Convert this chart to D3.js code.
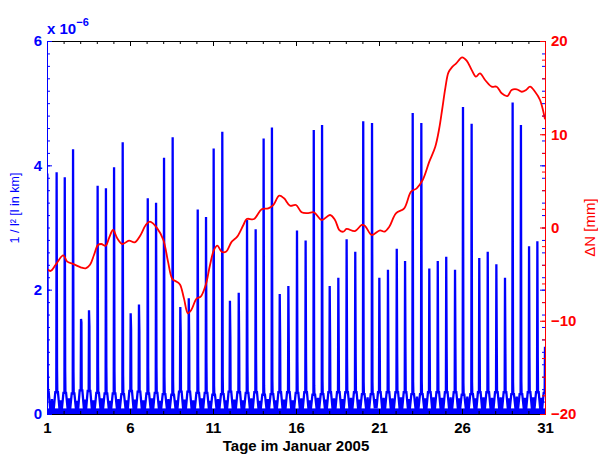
<!DOCTYPE html>
<html><head><meta charset="utf-8">
<script src="https://cdn.jsdelivr.net/npm/d3@7/dist/d3.min.js"></script>
<style>
body{margin:0;background:#fff}
svg{display:block}
text{font-family:"Liberation Sans",Arial,Helvetica,sans-serif}
</style>
</head><body>
<svg id="c" width="598" height="455"></svg>
<script>
// ---- data (left series in units of 1e-6, right series in mm) ----
const spikeDay=[1.02,1.58,2.07,2.57,3.05,3.53,4.05,4.55,5.04,5.56,6.04,6.54,7.07,7.57,8.05,8.57,9.03,9.54,10.08,10.58,
11.04,11.56,12.02,12.55,13.05,13.57,14.05,14.55,15.02,15.54,16.06,16.58,17.07,17.57,18.03,18.55,19.05,19.57,20.05,20.58,
21.02,21.54,22.07,22.57,23.03,23.55,24.03,24.54,25.05,25.58,26.06,26.58,27.04,27.55,28.07,28.59,29.05,29.55,30.04,30.54,31.0];
const spikePeak=[3.87,3.89,3.81,4.26,1.53,1.67,3.67,3.63,3.97,4.37,1.62,1.76,3.47,3.40,4.12,4.45,1.72,1.86,3.29,3.17,
4.27,4.54,1.82,1.95,3.12,2.97,4.43,4.61,1.93,2.06,2.95,2.79,4.57,4.65,2.06,2.19,2.81,2.61,4.71,4.68,
2.19,2.32,2.66,2.46,4.84,4.68,2.34,2.46,2.53,2.32,4.94,4.67,2.51,2.61,2.41,2.19,5.01,4.65,2.70,2.78,1.08];
const spikeShoulder=[0.70,0.72,0.70,0.68,1.47,1.41,0.75,0.75,0.68,0.62,1.37,1.33,0.73,0.75,0.60,0.55,1.31,1.25,0.77,0.82,
0.45,0.60,1.25,1.19,0.82,0.87,0.46,0.56,1.20,1.15,0.84,0.87,0.46,0.56,1.16,1.09,0.89,0.92,0.52,0.52,
1.08,1.03,0.95,1.00,0.52,0.53,1.03,1.00,1.00,1.03,0.50,0.52,1.00,0.97,1.07,0.97,0.52,0.53,0.91,0.91,0.60];
const spikeFoot=[0.36,0.35,0.34,0.33,0.38,0.37,0.34,0.33,0.33,0.32,0.37,0.36,0.33,0.34,0.32,0.31,0.36,0.36,0.34,0.34,
0.31,0.32,0.36,0.35,0.34,0.35,0.31,0.32,0.35,0.35,0.34,0.35,0.31,0.32,0.35,0.35,0.35,0.35,0.32,0.32,
0.35,0.35,0.35,0.35,0.32,0.32,0.35,0.35,0.35,0.35,0.31,0.32,0.35,0.35,0.35,0.35,0.32,0.32,0.35,0.35,0.34];
const bumpVal=[0.24,0.22,0.25,0.21,0.23,0.22,0.25,0.21,0.24,0.22,0.23,0.22,0.25,0.21,0.24,0.22,0.23,0.22,0.25,0.21,
0.24,0.22,0.23,0.22,0.25,0.21,0.24,0.22,0.23,0.22,0.25,0.22,0.26,0.23,0.25,0.24,0.26,0.23,0.27,0.24,
0.26,0.25,0.27,0.24,0.28,0.25,0.27,0.26,0.27,0.25,0.28,0.25,0.27,0.26,0.27,0.25,0.28,0.26,0.27,0.26];
const floorVal=0.09;

const redDay=[1.0,1.22,1.52,1.98,2.22,2.63,3.03,3.33,3.59,3.83,4.07,4.27,4.54,4.73,4.98,5.23,5.54,5.94,6.28,6.64,
6.95,7.20,7.64,8.01,8.29,8.55,8.81,9.01,9.25,9.49,9.69,10.02,10.26,10.56,10.82,11.06,11.26,11.52,11.78,12.13,
12.46,12.83,13.03,13.47,13.93,14.33,14.63,14.99,15.28,15.64,16.0,16.34,16.74,17.08,17.55,18.05,18.35,18.61,18.85,19.05,
19.55,19.96,20.16,20.56,21.06,21.32,21.62,22.02,22.52,22.93,23.27,23.63,24.03,24.39,24.63,24.80,25.0,25.18,25.40,25.65,
26.01,26.28,26.58,26.84,27.08,27.39,27.79,28.09,28.39,28.73,28.99,29.30,29.60,29.86,30.10,30.40,30.70,31.0];
const redVal=[-4.45,-4.66,-4.0,-3.0,-3.66,-3.95,-4.27,-4.38,-4.0,-2.95,-1.88,-1.77,-1.95,-1.16,-0.27,-1.16,-1.77,-1.41,-1.59,-0.80,
0.27,0.62,-0.09,-1.34,-3.66,-5.52,-5.81,-6.1,-7.6,-9.2,-8.85,-7.6,-7.42,-6.17,-4.02,-2.4,-1.95,-2.6,-2.6,-1.52,
-0.98,0.27,0.91,0.91,1.95,2.06,2.41,3.41,3.13,2.34,2.41,1.63,1.55,1.63,0.80,1.34,0.8,-0.27,-0.45,-0.16,
-0.38,0.27,0.16,-0.8,-0.3,-0.45,0.09,1.52,2.06,3.84,4.2,5.09,7.06,8.66,10.64,12.6,15.0,16.6,17.2,17.6,
18.25,17.9,16.9,16.17,16.53,15.82,15.1,15.1,14.39,14.1,14.75,14.82,14.56,14.75,15.1,14.56,13.67,11.6];

const xTicks=[1,6,11,16,21,26,31];
const yLeftTicks=[0,2,4,6];
const yRightTicks=[-20,-10,0,10,20];
const xLabel="Tage im Januar 2005";
const yLeftLabel="1 / l\u00B2 [l in km]";
const yRightLabel="\u0394N [mm]";

// ---- layout ----
const L=47,R=545,T=41,B=414;
const BLUE="#0000ff",RED="#ff0000";
const svg=d3.select("#c");
const x=d3.scaleLinear().domain([1,31]).range([L,R]);
const yL=d3.scaleLinear().domain([0,6]).range([B,T]);
const yR=d3.scaleLinear().domain([-20,20]).range([B,T]);

svg.append("defs").append("clipPath").attr("id","clip")
  .append("rect").attr("x",L).attr("y",T-2).attr("width",R-L).attr("height",B-T+2);

const plot=svg.append("g").attr("clip-path","url(#clip)");

// floor of the dense blue signal
plot.append("rect").attr("x",x(1)).attr("width",x(31)-x(1))
  .attr("y",yL(floorVal)).attr("height",yL(0)-yL(floorVal)).attr("fill",BLUE);

// blue spike signal
const pts=[];
spikeDay.forEach((t,i)=>{
  pts.push([t-0.17,floorVal],[t-0.08,spikeFoot[i]],[t-0.02,spikeFoot[i]],[t,spikePeak[i]],
           [t+0.025,spikeShoulder[i]],[t+0.04,spikeFoot[i]],[t+0.08,spikeFoot[i]],[t+0.17,floorVal]);
  if(i<bumpVal.length){
    const m=(t+spikeDay[i+1])/2;
    pts.push([m-0.05,floorVal],[m,bumpVal[i]],[m+0.05,floorVal]);
  }
});
plot.append("path").datum(pts)
  .attr("d",d3.line().x(d=>x(d[0])).y(d=>yL(d[1])))
  .attr("fill","none").attr("stroke",BLUE).attr("stroke-width",2.3).attr("stroke-linejoin","miter");

// red line
const redData=redDay.map((d,i)=>[d,redVal[i]]);
plot.append("path").datum(redData)
  .attr("d",d3.line().curve(d3.curveCatmullRom.alpha(0.5)).x(d=>x(d[0])).y(d=>yR(d[1])))
  .attr("fill","none").attr("stroke",RED).attr("stroke-width",1.8);

// ---- axes ----
const fontCss="font-weight:bold;font-size:15px";
function styleAxis(g,color,lab){
  g.select(".domain").attr("stroke",color).attr("stroke-width",1);
  g.selectAll(".tick line").attr("stroke",color);
  g.selectAll("text").attr("fill",lab||color).attr("style",fontCss+";font-family:'Liberation Sans',Arial,sans-serif");
}
// bottom
const minorDays=d3.range(1,32);
svg.append("g").attr("transform",`translate(0,${B})`)
  .call(d3.axisBottom(x).tickValues(minorDays).tickSize(-3).tickFormat("").tickSizeOuter(0))
  .call(g=>styleAxis(g,"#000"));
svg.append("g").attr("transform",`translate(0,${B})`)
  .call(d3.axisBottom(x).tickValues(xTicks).tickSizeInner(-5).tickSizeOuter(0).tickPadding(8).tickFormat(d3.format("d")))
  .call(g=>styleAxis(g,"#000"));
// top
svg.append("g").attr("transform",`translate(0,${T})`)
  .call(d3.axisTop(x).tickValues(minorDays).tickSize(-3).tickFormat("").tickSizeOuter(0))
  .call(g=>styleAxis(g,"#000"));
svg.append("g").attr("transform",`translate(0,${T})`)
  .call(d3.axisTop(x).tickValues(xTicks).tickSize(-5).tickFormat("").tickSizeOuter(0))
  .call(g=>styleAxis(g,"#000"));
// left (blue)
const leftMinor=d3.range(0,6.0001,0.2);
svg.append("g").attr("transform",`translate(${L},0)`)
  .call(d3.axisLeft(yL).tickValues(leftMinor).tickSize(-3).tickFormat("").tickSizeOuter(0))
  .call(g=>styleAxis(g,BLUE));
svg.append("g").attr("transform",`translate(${L},0)`)
  .call(d3.axisLeft(yL).tickValues(yLeftTicks).tickSizeInner(-5).tickSizeOuter(0).tickPadding(5).tickFormat(d3.format("d")))
  .call(g=>styleAxis(g,BLUE));
// blue mirrored ticks on right
svg.append("g").attr("transform",`translate(${R},0)`)
  .call(d3.axisRight(yL).tickValues(leftMinor).tickSize(-3).tickFormat("").tickSizeOuter(0))
  .call(g=>{styleAxis(g,BLUE);g.select(".domain").remove();});
svg.append("g").attr("transform",`translate(${R},0)`)
  .call(d3.axisRight(yL).tickValues(yLeftTicks).tickSize(-5).tickFormat("").tickSizeOuter(0))
  .call(g=>{styleAxis(g,BLUE);g.select(".domain").remove();});
// right (red)
const rightMinor=d3.range(-20,20.001,2);
svg.append("g").attr("transform",`translate(${R},0)`)
  .call(d3.axisRight(yR).tickValues(rightMinor).tickSize(-3).tickFormat("").tickSizeOuter(0))
  .call(g=>styleAxis(g,RED));
svg.append("g").attr("transform",`translate(${R},0)`)
  .call(d3.axisRight(yR).tickValues(yRightTicks).tickSizeInner(-5).tickSizeOuter(0).tickPadding(6)
    .tickFormat(d=>d<0?"\u2212"+Math.abs(d):String(d)))
  .call(g=>styleAxis(g,RED));

// exponent label
const ex=svg.append("text").attr("x",L).attr("y",34).attr("fill",BLUE)
  .style("font-weight","bold").style("font-size","15px");
ex.append("tspan").text("x 10");
ex.append("tspan").attr("dy",-8).style("font-size","11px").text("\u22126");

// axis titles
svg.append("text").attr("x",(L+R)/2).attr("y",451).attr("text-anchor","middle")
  .style("font-weight","bold").style("font-size","15px").attr("fill","#000").text(xLabel);
svg.append("text").attr("transform","translate(19,208) rotate(-90)").attr("text-anchor","middle")
  .style("font-size","12.5px").attr("fill",BLUE).text(yLeftLabel);
svg.append("text").attr("transform",`translate(595,${(T+B)/2}) rotate(-90)`).attr("text-anchor","middle")
  .style("font-size","15px").attr("fill",RED).text(yRightLabel);
</script>
</body></html>
